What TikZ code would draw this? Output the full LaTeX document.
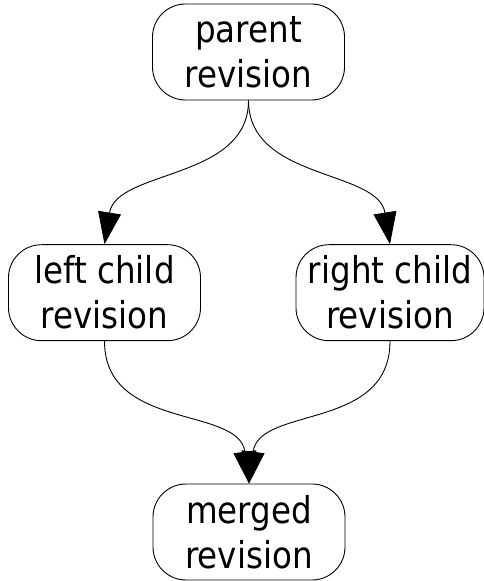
\documentclass[tikz,border=0pt]{standalone}
\usepackage{fontspec}
\setmainfont{DejaVu Sans}[FakeStretch=0.88]
\usetikzlibrary{arrows.meta}

\tikzset{
	rev/.style = {draw, rounded corners = 33pt, align = center, minimum width = 192pt, minimum height = 96pt, inner sep = 0pt, font = \fontsize{37}{45}\selectfont},
	flow/.style = {-{Triangle[length = 32pt, width = 23pt]}}
}

\begin{document}
\begin{tikzpicture}[x = 1pt, y = 1pt, line width = 0.9pt]
							\useasboundingbox (0, 0) rectangle (484, 581);

							\node[rev](parent) at (248.5, 529) {parent\\revision};
							\node[rev](left) at (104.5, 288.3) {left child\\revision};
							\node[rev, minimum width = 188pt](right) at (390, 288.3) {right child\\revision};
							\node[rev](merged) at (249, 49) {merged\\revision};

							\draw[flow] (parent.south) .. controls +(0, -80) and +(12, 75) .. (left.north);
							\draw[flow] (parent.south) .. controls +(0, -80) and +(-12, 75) .. (right.north);
							\draw[flow] (left.south) .. controls +(0, -90) and +(-10, 78) .. (merged.north);
							\draw[flow] (right.south) .. controls +(0, -90) and +(10, 78) .. (merged.north);
						\end{tikzpicture}
\end{document}
